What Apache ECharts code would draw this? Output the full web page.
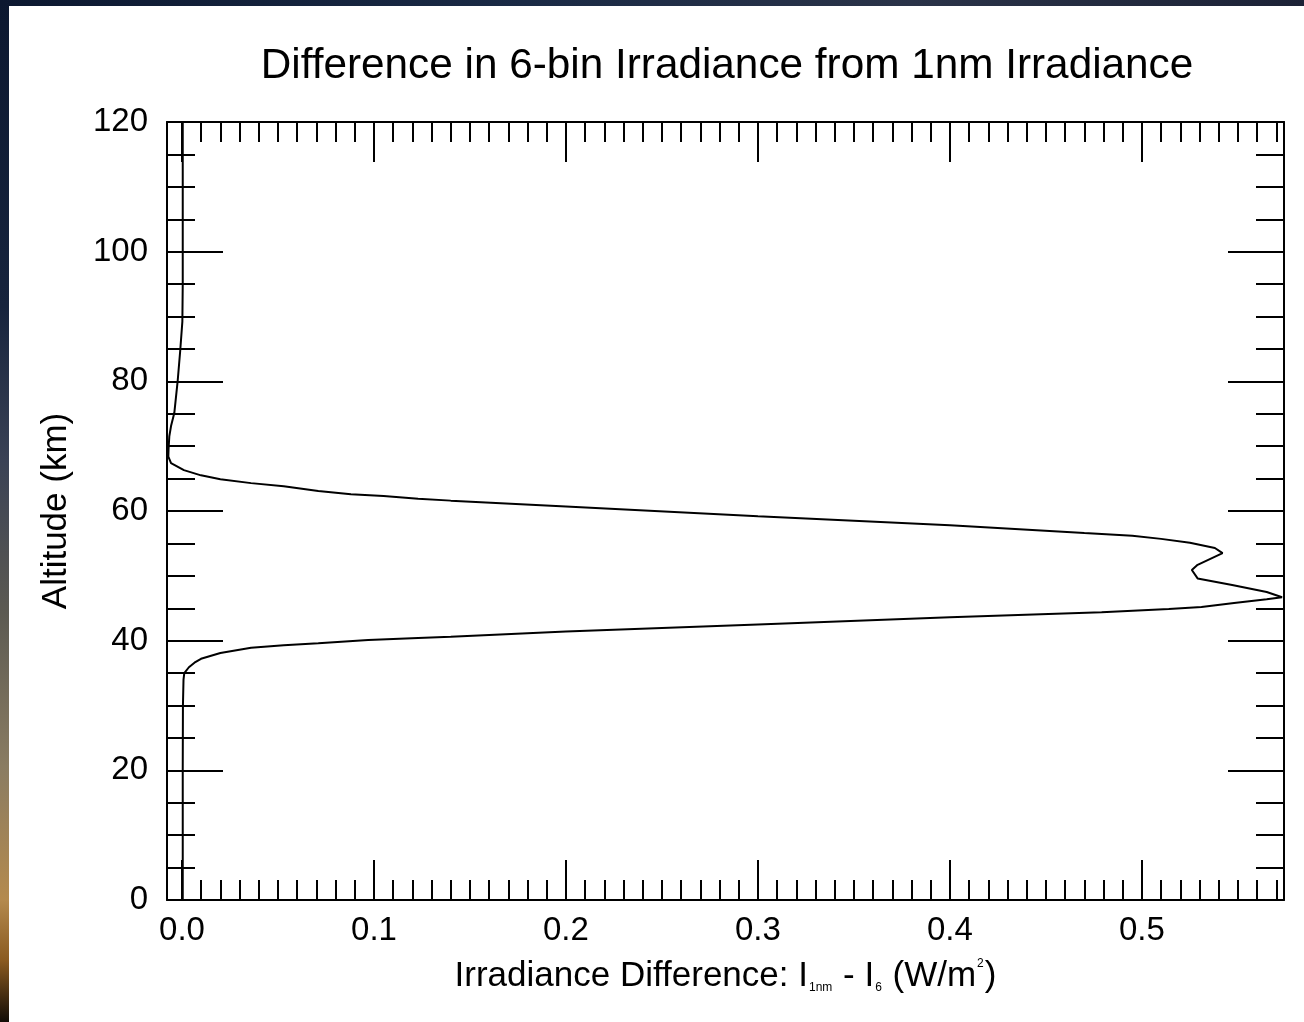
<!DOCTYPE html>
<html>
<head>
<meta charset="utf-8">
<script src="https://cdn.jsdelivr.net/npm/echarts@6/dist/echarts.min.js"></script>
<style>
  html, body { margin: 0; padding: 0; width: 1304px; height: 1022px; overflow: hidden; }
  body {
    background: linear-gradient(180deg, #0c1830 0%, #17243d 30%, #3a4255 45%, #5c5a52 60%, #8a7c62 75%, #b48a4e 88%, #8a5a20 94%, #120c06 100%);
    position: relative;
  }
  #topband {
    position: absolute; left: 0; top: 0; width: 1304px; height: 6px;
    background: linear-gradient(90deg, #0c1830 0%, #1a2a45 40%, #2a3348 70%, #1c2236 100%);
  }
  #paper { position: absolute; left: 9px; top: 6px; right: 0; bottom: 0; background: #ffffff; }
  #chart { position: absolute; left: 0; top: 0; width: 1304px; height: 1022px; }
</style>
</head>
<body>
<div id="topband"></div>
<div id="paper"></div>
<div id="chart"></div>
<script>
// Altitude (km) and irradiance difference I_1nm - I_6 (W/m^2)
const altitudeKm = [0, 10, 20, 30, 34, 35, 35.9, 36.6, 37.2, 38.1, 38.9, 39.3, 39.6, 40.1, 40.4, 40.6,
  41.4, 42.5, 43.6, 44.4, 44.9, 45.2, 45.8, 46.4, 46.7, 47.5, 48.6, 49.6, 50.9, 51.7, 53.5, 54.3,
  55.1, 55.7, 56.2, 56.6, 57.8, 59.2, 60.7, 61.6, 61.9, 62.3, 62.6, 63.1, 63.8, 64.3, 64.9, 65.5,
  66.3, 67.4, 68.4, 69.5, 71.5, 73.1, 75.1, 80.2, 84.8, 89.2, 95, 100, 110, 120];
const irrDiff = [0.0004, 0.0004, 0.0004, 0.0005, 0.0008, 0.0012, 0.0036, 0.0065, 0.0099, 0.020, 0.036, 0.053, 0.071, 0.097, 0.123, 0.140,
  0.200, 0.300, 0.400, 0.479, 0.514, 0.531, 0.548, 0.565, 0.573, 0.565, 0.547, 0.529, 0.526, 0.529, 0.542, 0.538,
  0.525, 0.510, 0.495, 0.470, 0.400, 0.300, 0.200, 0.140, 0.123, 0.105, 0.088, 0.071, 0.053, 0.036, 0.020, 0.0099,
  0.001, -0.0057, -0.0071, -0.0070, -0.0066, -0.0057, -0.0040, -0.0022, -0.0009, 0.0002, 0.0004, 0.0004, 0.0004, 0.0004];
const xRange = [-0.0078, 0.574];
const yRange = [0, 120];
const titleText = 'Difference in 6-bin Irradiance from 1nm Irradiance';
const yName = 'Altitude (km)';

const FONT = '"Liberation Sans", Arial, Helvetica, sans-serif';
const lineData = altitudeKm.map((a, i) => [irrDiff[i], a]);

const chart = echarts.init(document.getElementById('chart'), null, { renderer: 'canvas' });

const axisLineStyle = { color: '#000', width: 2 };
const xCommon = {
  type: 'value', min: xRange[0], max: xRange[1], splitNumber: 5,
  axisLine: { show: true, onZero: false, lineStyle: axisLineStyle },
  axisTick: { show: true, inside: true, length: 40, lineStyle: { color: '#000', width: 2 } },
  minorTick: { show: true, splitNumber: 10, length: 20, lineStyle: { color: '#000', width: 2 } },
  splitLine: { show: false }, minorSplitLine: { show: false }
};
const yCommon = {
  type: 'value', min: yRange[0], max: yRange[1], interval: 20,
  axisLine: { show: true, onZero: false, lineStyle: axisLineStyle },
  axisTick: { show: true, inside: true, length: 56, lineStyle: { color: '#000', width: 2 } },
  minorTick: { show: true, splitNumber: 4, length: 28, lineStyle: { color: '#000', width: 2 } },
  splitLine: { show: false }, minorSplitLine: { show: false }
};

chart.setOption({
  backgroundColor: 'transparent',
  animation: false,
  title: {
    text: titleText, left: 722, top: 40, textAlign: 'center',
    textStyle: { fontFamily: FONT, fontSize: 42.3, fontWeight: 'normal', color: '#000' }
  },
  grid: { left: 167, right: 20, top: 122, bottom: 122 },
  xAxis: [
    Object.assign({}, xCommon, {
      position: 'bottom',
      axisLabel: {
        show: true, margin: 14, color: '#000', fontFamily: FONT, fontSize: 33,
        showMinLabel: false, showMaxLabel: false,
        formatter: v => {
          const r = Math.round(v * 10) / 10;
          return Math.abs(v - r) < 1e-6 ? r.toFixed(1) : '';
        }
      },
      name: '{t|Irradiance Difference: I}{sub|1nm}{t| - I}{sub|6}{t| (W/m}{sup|2}{t|)}',
      nameLocation: 'middle', nameGap: 56,
      nameTextStyle: {
        color: '#000', fontFamily: FONT, fontSize: 35,
        rich: {
          t: { fontFamily: FONT, fontSize: 35, color: '#000', lineHeight: 40 },
          sub: { fontFamily: FONT, fontSize: 12, color: '#000', verticalAlign: 'bottom', lineHeight: 40, padding: [0, 1, 2, 1] },
          sup: { fontFamily: FONT, fontSize: 12, color: '#000', verticalAlign: 'top', lineHeight: 40, padding: [2, 1, 0, 1] }
        }
      }
    }),
    Object.assign({}, xCommon, { position: 'top', axisLabel: { show: false } })
  ],
  yAxis: [
    Object.assign({}, yCommon, {
      position: 'left',
      axisLabel: { show: true, margin: 19, color: '#000', fontFamily: FONT, fontSize: 33 },
      name: yName, nameLocation: 'middle', nameRotate: 90, nameGap: 93,
      nameTextStyle: { color: '#000', fontFamily: FONT, fontSize: 35 }
    }),
    Object.assign({}, yCommon, { position: 'right', axisLabel: { show: false } })
  ],
  series: [{
    type: 'line', xAxisIndex: 0, yAxisIndex: 0,
    data: lineData, showSymbol: false, symbol: 'none', smooth: false,
    lineStyle: { color: '#000', width: 2 }, clip: true
  }]
});
</script>
</body>
</html>
